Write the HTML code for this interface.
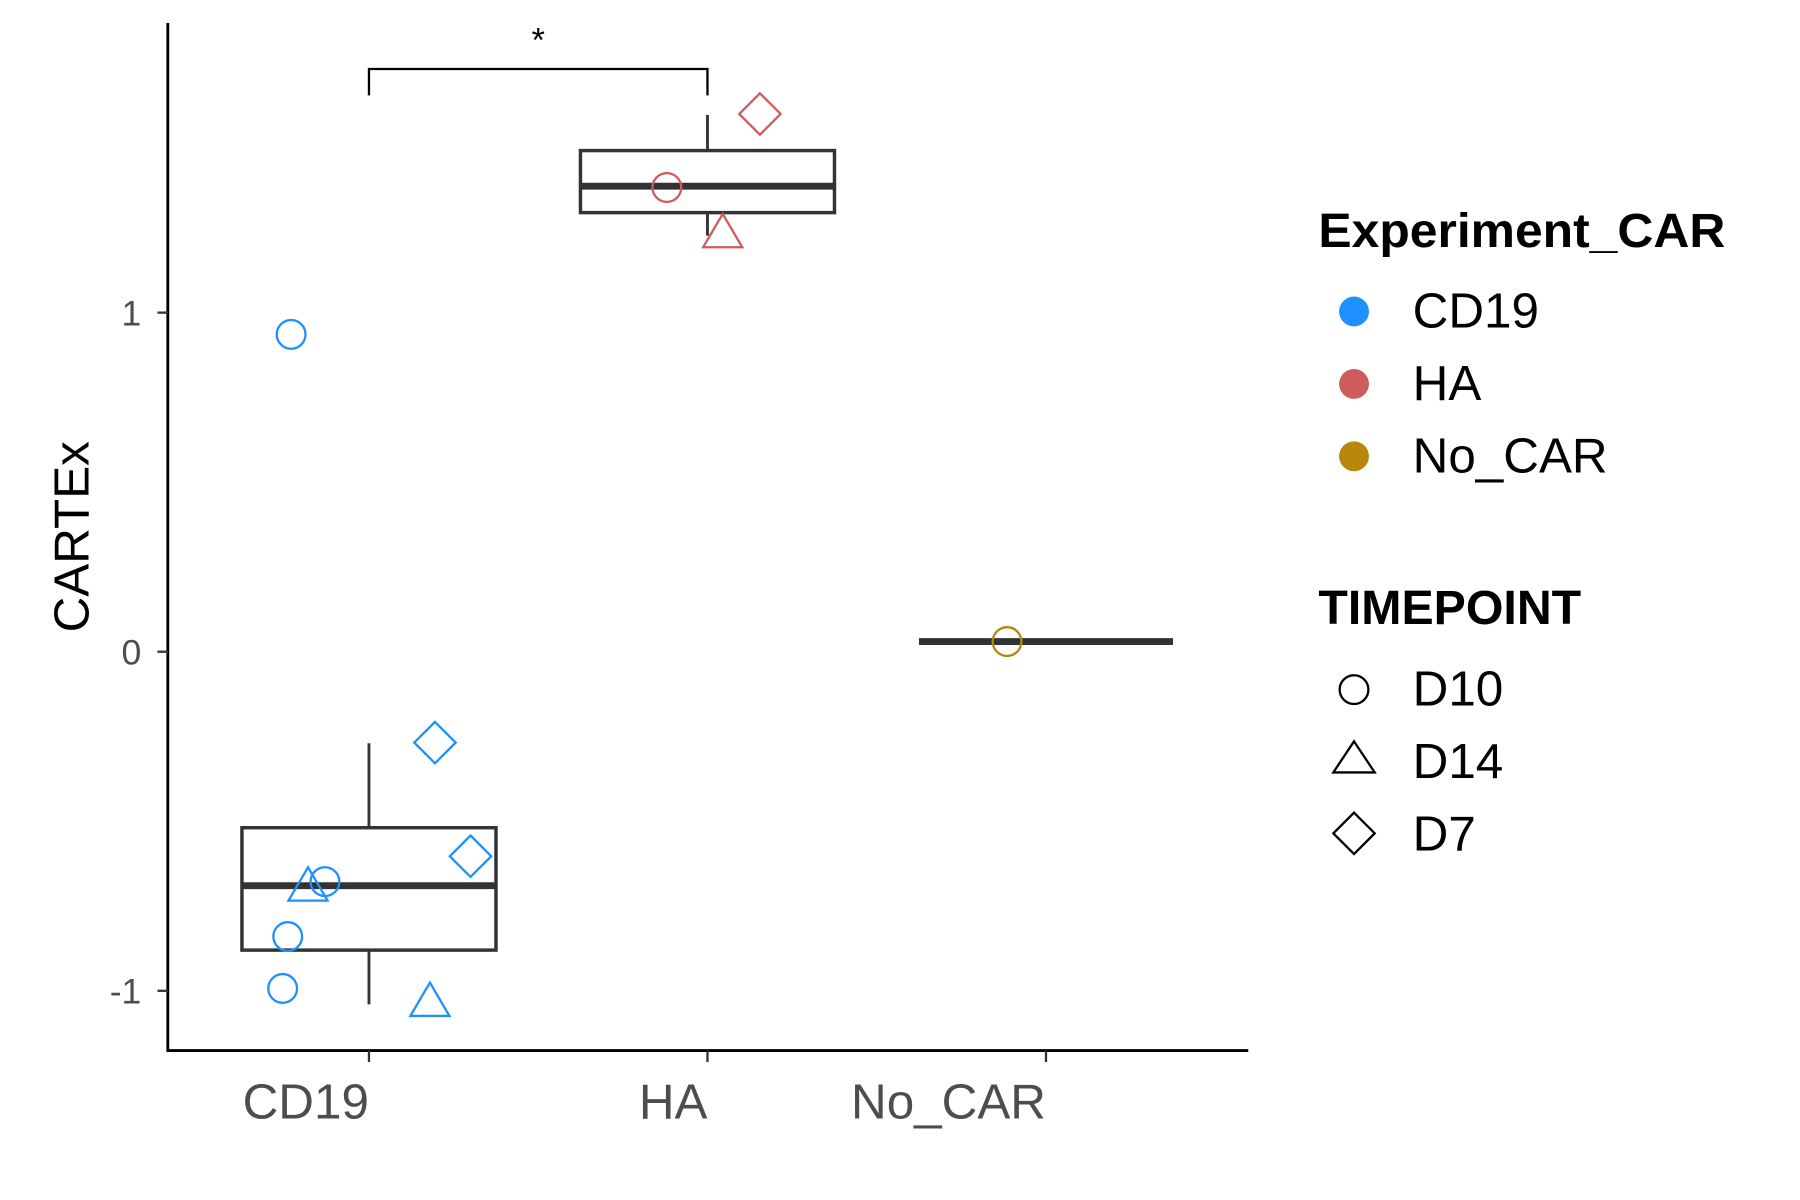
<!DOCTYPE html>
<html><head><meta charset="utf-8"><style>
html,body{margin:0;padding:0;background:#fff;}
svg{display:block;font-family:"Liberation Sans",Arial,sans-serif;}
</style></head><body>
<svg id="chart" width="1800" height="1200" viewBox="0 0 1566 1044" xmlns="http://www.w3.org/2000/svg">
<g id="plot"></g>
<g id="legend">
  <text x="1147" y="215" font-size="42" font-weight="bold" textLength="354" lengthAdjust="spacingAndGlyphs">Experiment_CAR</text>
  <circle cx="1178" cy="271" r="13" fill="#1E90FF"/>
  <text x="1229" y="285" font-size="43">CD19</text>
  <circle cx="1178" cy="334" r="13" fill="#CD5C5C"/>
  <text x="1229" y="348" font-size="43">HA</text>
  <circle cx="1178" cy="397" r="13" fill="#B8860B"/>
  <text x="1229" y="411" font-size="43">No_CAR</text>
  <text x="1147" y="543" font-size="42" font-weight="bold">TIMEPOINT</text>
  <circle cx="1178" cy="600" r="12.5" fill="none" stroke="#000" stroke-width="2"/>
  <text x="1229" y="614" font-size="43">D10</text>
  <polygon points="1178,645 1196,672 1160,672" fill="none" stroke="#000" stroke-width="2"/>
  <text x="1229" y="677" font-size="43">D14</text>
  <polygon points="1178,707 1196,725 1178,743 1160,725" fill="none" stroke="#000" stroke-width="2"/>
  <text x="1229" y="740" font-size="43">D7</text>
</g>
</svg>
<script>
const categories = ["CD19","HA","No_CAR"];
const yTicks = [-1, 0, 1];
const boxQ1 = [-0.88, 1.295, 0.03];
const boxMedian = [-0.69, 1.373, 0.03];
const boxQ3 = [-0.519, 1.478, 0.03];
const whiskLow = [-1.04, 1.227, 0.03];
const whiskHigh = [-0.27, 1.583, 0.03];
const pointCat = [0,0,0,0,0,0,0,0,1,1,1,2];
const pointJitter = [-0.23,-0.13,-0.18,-0.24,-0.255,0.18,0.195,0.30,-0.12,0.045,0.155,-0.115];
const pointValue = [0.936,-0.678,-0.69,-0.84,-0.993,-1.03,-0.268,-0.603,1.369,1.237,1.586,0.03];
const pointTime = ["D10","D10","D14","D10","D10","D14","D7","D7","D10","D14","D7","D10"];
const colors = {"CD19":"#1E90FF","HA":"#CD5C5C","No_CAR":"#B8860B"};

const NS="http://www.w3.org/2000/svg";
const g=document.getElementById('plot');
const X0=321, XSTEP=294.5;
const xs=i=>X0+i*XSTEP;
const ys=v=>567-295*v;
function mk(tag,attrs,parent){const e=document.createElementNS(NS,tag);for(const k in attrs)e.setAttribute(k,attrs[k]);(parent||g).appendChild(e);return e;}

let e=mk('line',{x1:146,y1:20,x2:146,y2:915,stroke:'#000','stroke-width':2.5});


e=mk('line',{x1:145,y1:914,x2:1086,y2:914,stroke:'#000','stroke-width':2.5});


yTicks.forEach(v=>{
  let t=mk('line',{x1:137,x2:146,y1:ys(v),y2:ys(v),stroke:'#333','stroke-width':2});
  
  
  let l=mk('text',{x:123,y:ys(v)+11,'font-size':31,fill:'#4d4d4d','text-anchor':'end'});
  l.textContent=String(v);
  
  
});
categories.forEach((c,i)=>{
  let t=mk('line',{x1:xs(i),x2:xs(i),y1:914,y2:924,stroke:'#333','stroke-width':2});
  
  
  let l=mk('text',{x:xs(i),y:973,'font-size':43,fill:'#4d4d4d','text-anchor':'end'});
  l.textContent=c;
  
  
});
e=mk('text',{x:0,y:0,'font-size':43,fill:'#000','text-anchor':'middle',transform:'translate(77,467) rotate(-90)'});
e.textContent='CARTEx';



const HW=110.5;
categories.forEach((c,i)=>{
  const cx=xs(i);
  const bg=mk('g',{});
  
  
  mk('line',{x1:cx,x2:cx,y1:ys(whiskHigh[i]),y2:ys(boxQ3[i]),stroke:'#333','stroke-width':2.5},bg);
  mk('line',{x1:cx,x2:cx,y1:ys(boxQ1[i]),y2:ys(whiskLow[i]),stroke:'#333','stroke-width':2.5},bg);
  if(boxQ3[i]!==boxQ1[i]) mk('rect',{x:cx-HW,y:ys(boxQ3[i]),width:2*HW,height:ys(boxQ1[i])-ys(boxQ3[i]),fill:'none',stroke:'#333','stroke-width':3},bg);
  mk('line',{x1:cx-HW,x2:cx+HW,y1:ys(boxMedian[i]),y2:ys(boxMedian[i]),stroke:'#333','stroke-width':6},bg);
});

pointValue.forEach((v,k)=>{
  const cx=xs(pointCat[k]+pointJitter[k]), cy=ys(v), col=colors[categories[pointCat[k]]];
  let p;
  if(pointTime[k]==='D10') p=mk('circle',{cx:cx,cy:cy,r:12.5,fill:'none',stroke:col,'stroke-width':2});
  else if(pointTime[k]==='D14') p=mk('polygon',{points:`${cx},${cy-16} ${cx+17},${cy+13} ${cx-17},${cy+13}`,fill:'none',stroke:col,'stroke-width':2});
  else p=mk('polygon',{points:`${cx},${cy-18} ${cx+18},${cy} ${cx},${cy+18} ${cx-18},${cy}`,fill:'none',stroke:col,'stroke-width':2});
  
  
});

e=mk('path',{d:`M${xs(0)},83 V60 H${xs(1)} V83`,fill:'none',stroke:'#000','stroke-width':2});


e=mk('text',{x:(xs(0)+xs(1))/2,y:45,'font-size':30,'text-anchor':'middle'});
e.textContent='*';


</script>
</body></html>
